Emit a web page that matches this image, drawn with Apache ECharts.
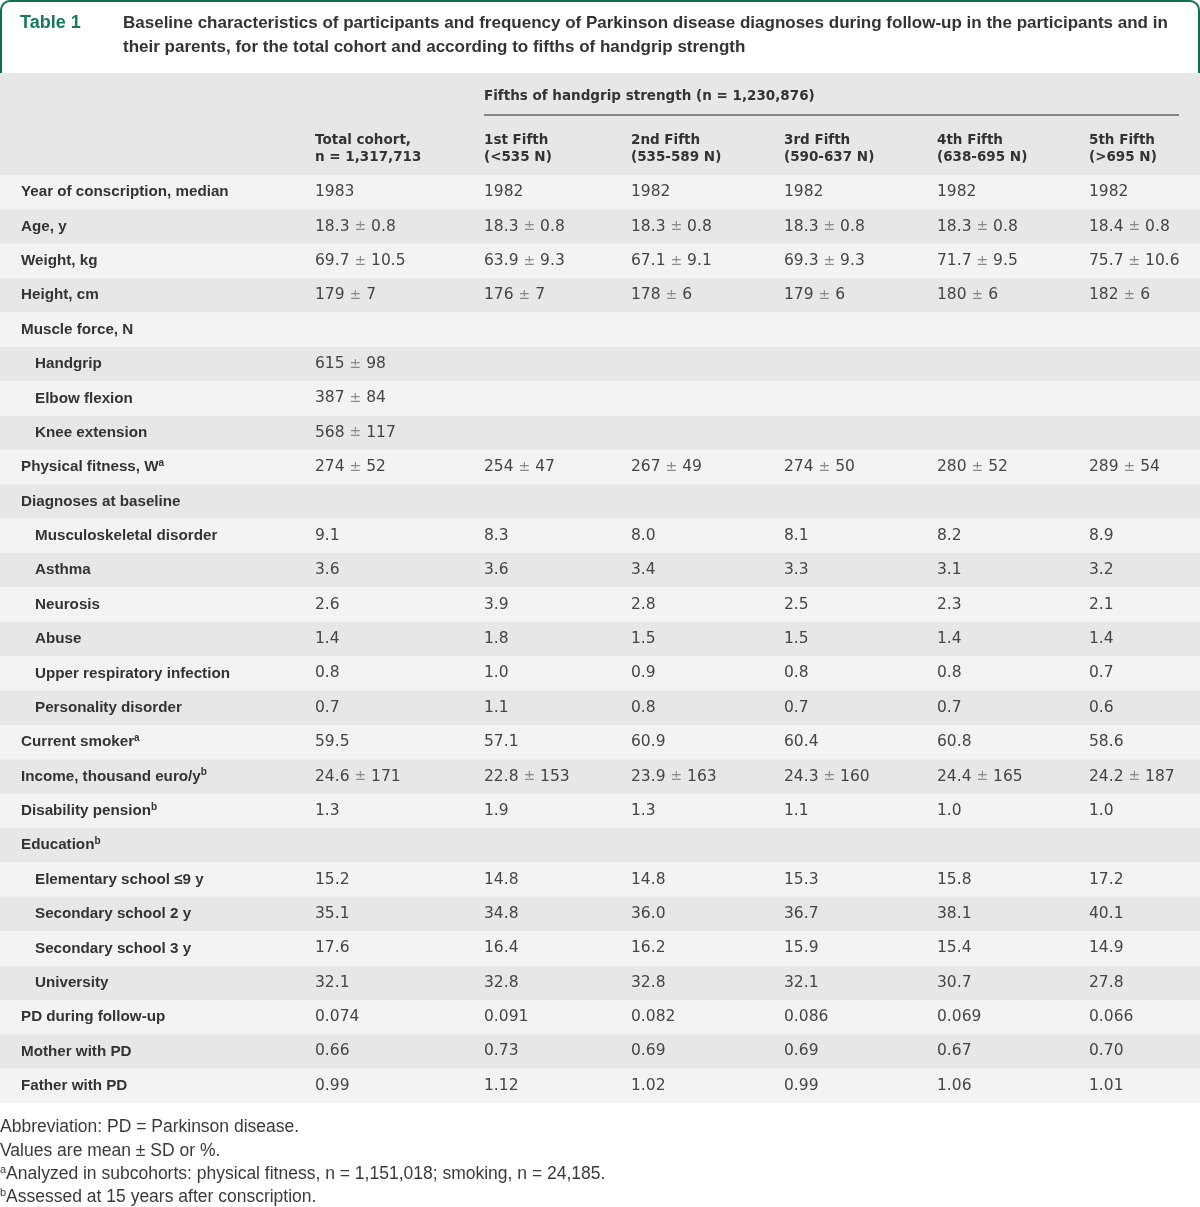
<!DOCTYPE html>
<html><head><meta charset="utf-8">
<script src="https://cdn.jsdelivr.net/npm/echarts@6/dist/echarts.min.js"></script>
<style>html,body{margin:0;padding:0;background:#fff}#chart{width:1200px;height:1207px}</style>
</head><body><div id="chart"></div>
<script>
// ---------- data ----------
const tableNumber = 'Table 1';
const titleLines = [
  'Baseline characteristics of participants and frequency of Parkinson disease diagnoses during follow-up in the participants and in',
  'their parents, for the total cohort and according to fifths of handgrip strength'
];
const groupHeader = 'Fifths of handgrip strength (n = 1,230,876)';
const columnHeaders = [
  ['Total cohort,', 'n = 1,317,713'],
  ['1st Fifth', '(<535 N)'],
  ['2nd Fifth', '(535-589 N)'],
  ['3rd Fifth', '(590-637 N)'],
  ['4th Fifth', '(638-695 N)'],
  ['5th Fifth', '(>695 N)']
];
const rowLabels = [
  'Year of conscription, median', 'Age, y', 'Weight, kg', 'Height, cm',
  'Muscle force, N', 'Handgrip', 'Elbow flexion', 'Knee extension',
  'Physical fitness, W{sup|a}', 'Diagnoses at baseline',
  'Musculoskeletal disorder', 'Asthma', 'Neurosis', 'Abuse',
  'Upper respiratory infection', 'Personality disorder',
  'Current smoker{sup|a}', 'Income, thousand euro/y{sup|b}', 'Disability pension{sup|b}',
  'Education{sup|b}', 'Elementary school ≤9 y', 'Secondary school 2 y',
  'Secondary school 3 y', 'University', 'PD during follow-up',
  'Mother with PD', 'Father with PD'
];
const subItems = [
  'Handgrip', 'Elbow flexion', 'Knee extension',
  'Musculoskeletal disorder', 'Asthma', 'Neurosis', 'Abuse',
  'Upper respiratory infection', 'Personality disorder',
  'Elementary school ≤9 y', 'Secondary school 2 y', 'Secondary school 3 y', 'University'
];
const totalCohort = ['1983', '18.3 ± 0.8', '69.7 ± 10.5', '179 ± 7', '', '615 ± 98', '387 ± 84', '568 ± 117',
  '274 ± 52', '', '9.1', '3.6', '2.6', '1.4', '0.8', '0.7', '59.5', '24.6 ± 171', '1.3', '',
  '15.2', '35.1', '17.6', '32.1', '0.074', '0.66', '0.99'];
const fifth1 = ['1982', '18.3 ± 0.8', '63.9 ± 9.3', '176 ± 7', '', '', '', '',
  '254 ± 47', '', '8.3', '3.6', '3.9', '1.8', '1.0', '1.1', '57.1', '22.8 ± 153', '1.9', '',
  '14.8', '34.8', '16.4', '32.8', '0.091', '0.73', '1.12'];
const fifth2 = ['1982', '18.3 ± 0.8', '67.1 ± 9.1', '178 ± 6', '', '', '', '',
  '267 ± 49', '', '8.0', '3.4', '2.8', '1.5', '0.9', '0.8', '60.9', '23.9 ± 163', '1.3', '',
  '14.8', '36.0', '16.2', '32.8', '0.082', '0.69', '1.02'];
const fifth3 = ['1982', '18.3 ± 0.8', '69.3 ± 9.3', '179 ± 6', '', '', '', '',
  '274 ± 50', '', '8.1', '3.3', '2.5', '1.5', '0.8', '0.7', '60.4', '24.3 ± 160', '1.1', '',
  '15.3', '36.7', '15.9', '32.1', '0.086', '0.69', '0.99'];
const fifth4 = ['1982', '18.3 ± 0.8', '71.7 ± 9.5', '180 ± 6', '', '', '', '',
  '280 ± 52', '', '8.2', '3.1', '2.3', '1.4', '0.8', '0.7', '60.8', '24.4 ± 165', '1.0', '',
  '15.8', '38.1', '15.4', '30.7', '0.069', '0.67', '1.06'];
const fifth5 = ['1982', '18.4 ± 0.8', '75.7 ± 10.6', '182 ± 6', '', '', '', '',
  '289 ± 54', '', '8.9', '3.2', '2.1', '1.4', '0.7', '0.6', '58.6', '24.2 ± 187', '1.0', '',
  '17.2', '40.1', '14.9', '27.8', '0.066', '0.70', '1.01'];
const footnotes = [
  'Abbreviation: PD = Parkinson disease.',
  'Values are mean ± SD or %.',
  '{sup|a}Analyzed in subcohorts: physical fitness, n = 1,151,018; smoking, n = 24,185.',
  '{sup|b}Assessed at 15 years after conscription.'
];

// ---------- layout / style ----------
const columns = [totalCohort, fifth1, fifth2, fifth3, fifth4, fifth5];
const colX = [315, 484, 631, 784, 937, 1089];
const TEAL = '#0f6e4c';
const LIGHT = '#f2f3f3', DARK = '#e7e7e7';
const LABEL_FONT = '"Liberation Sans", Arial, sans-serif';
const VALUE_FONT = '"DejaVu Sans", sans-serif';

function txt(x, y, text, o) {
  return {
    type: 'text', x: x, y: y, z: 10,
    style: Object.assign({
      text: text, align: 'left', verticalAlign: 'middle',
      textAlign: 'left', textVerticalAlign: 'middle'
    }, o)
  };
}

const rowIndex = rowLabels.map((_, i) => i);

const graphics = [
  { type: 'rect', z: 1, shape: { x: 1, y: 1, width: 1198, height: 90, r: [9, 9, 0, 0] },
    style: { fill: '#ffffff', stroke: TEAL, lineWidth: 2 } },
  { type: 'rect', z: 2, shape: { x: 0, y: 73, width: 1200, height: 102 }, style: { fill: DARK } },
  txt(20, 23, tableNumber, { fill: '#17795a', fontFamily: LABEL_FONT, fontWeight: 'bold', fontSize: 18 }),
  txt(123, 23, titleLines[0], { fill: '#333333', fontFamily: LABEL_FONT, fontWeight: 'bold', fontSize: 17 }),
  txt(123, 47, titleLines[1], { fill: '#333333', fontFamily: LABEL_FONT, fontWeight: 'bold', fontSize: 17 }),
  txt(484, 96, groupHeader, { fill: '#333333', fontFamily: VALUE_FONT, fontWeight: 'bold', fontSize: 13.5 }),
  { type: 'line', z: 10, shape: { x1: 484, y1: 115, x2: 1179, y2: 115 }, style: { stroke: '#666666', lineWidth: 1.5 } }
];
columnHeaders.forEach((h, i) => {
  graphics.push(txt(colX[i], 149, h.join('\n'), {
    fill: '#333333', fontFamily: VALUE_FONT, fontWeight: 'bold', fontSize: 13.5, lineHeight: 17
  }));
});
const footY = [1127, 1151, 1174, 1197];
footnotes.forEach((f, i) => {
  graphics.push(txt(0, footY[i], f, {
    fill: '#3a3a3a', fontFamily: LABEL_FONT, fontSize: 17.5, lineHeight: 19,
    rich: { sup: { fontSize: 11, verticalAlign: 'top', fontFamily: LABEL_FONT, fill: '#3a3a3a' } }
  }));
});

const chart = echarts.init(document.getElementById('chart'), null, { renderer: 'canvas' });
chart.setOption({
  animation: false,
  backgroundColor: '#ffffff',
  grid: { left: 0, right: 0, top: 175, height: 928 },
  xAxis: { type: 'value', min: 0, max: 1200, show: false },
  yAxis: { type: 'category', data: rowLabels, inverse: true, show: false },
  graphic: graphics,
  series: [{
    type: 'custom',
    data: rowIndex.map(i => [0, i]),
    encode: { x: 0, y: 1 },
    renderItem: function (params, api) {
      const r = api.value(1);
      const c = api.coord([0, r]);
      const h = api.size([0, 1])[1];
      const y = c[1];
      const label = rowLabels[r];
      const plain = label.replace(/\{sup\|.\}/g, '');
      const indent = subItems.indexOf(plain) >= 0 ? 14 : 0;
      const children = [{
        type: 'rect', shape: { x: 0, y: y - h / 2, width: 1200, height: h },
        style: { fill: r % 2 === 0 ? LIGHT : DARK }
      }, {
        type: 'text', x: 21 + indent, y: y,
        style: {
          text: label, fill: '#333333', fontFamily: LABEL_FONT, fontWeight: 'bold', fontSize: 15.2,
          lineHeight: 18, align: 'left', verticalAlign: 'middle',
          rich: { sup: { fontSize: 10, verticalAlign: 'top', fontFamily: LABEL_FONT, fontWeight: 'bold', fill: '#333333' } }
        }
      }];
      columns.forEach((col, k) => {
        const v = col[r];
        if (!v) return;
        children.push({
          type: 'text', x: colX[k], y: y,
          style: {
            text: v.replace(' ± ', ' {pm|±} '), fill: '#454545', fontFamily: VALUE_FONT, fontSize: 15.5,
            align: 'left', verticalAlign: 'middle',
            rich: { pm: { fill: '#8a8a8a', fontFamily: VALUE_FONT, fontSize: 14 } }
          }
        });
      });
      return { type: 'group', children: children };
    }
  }]
});
</script>
</body></html>
